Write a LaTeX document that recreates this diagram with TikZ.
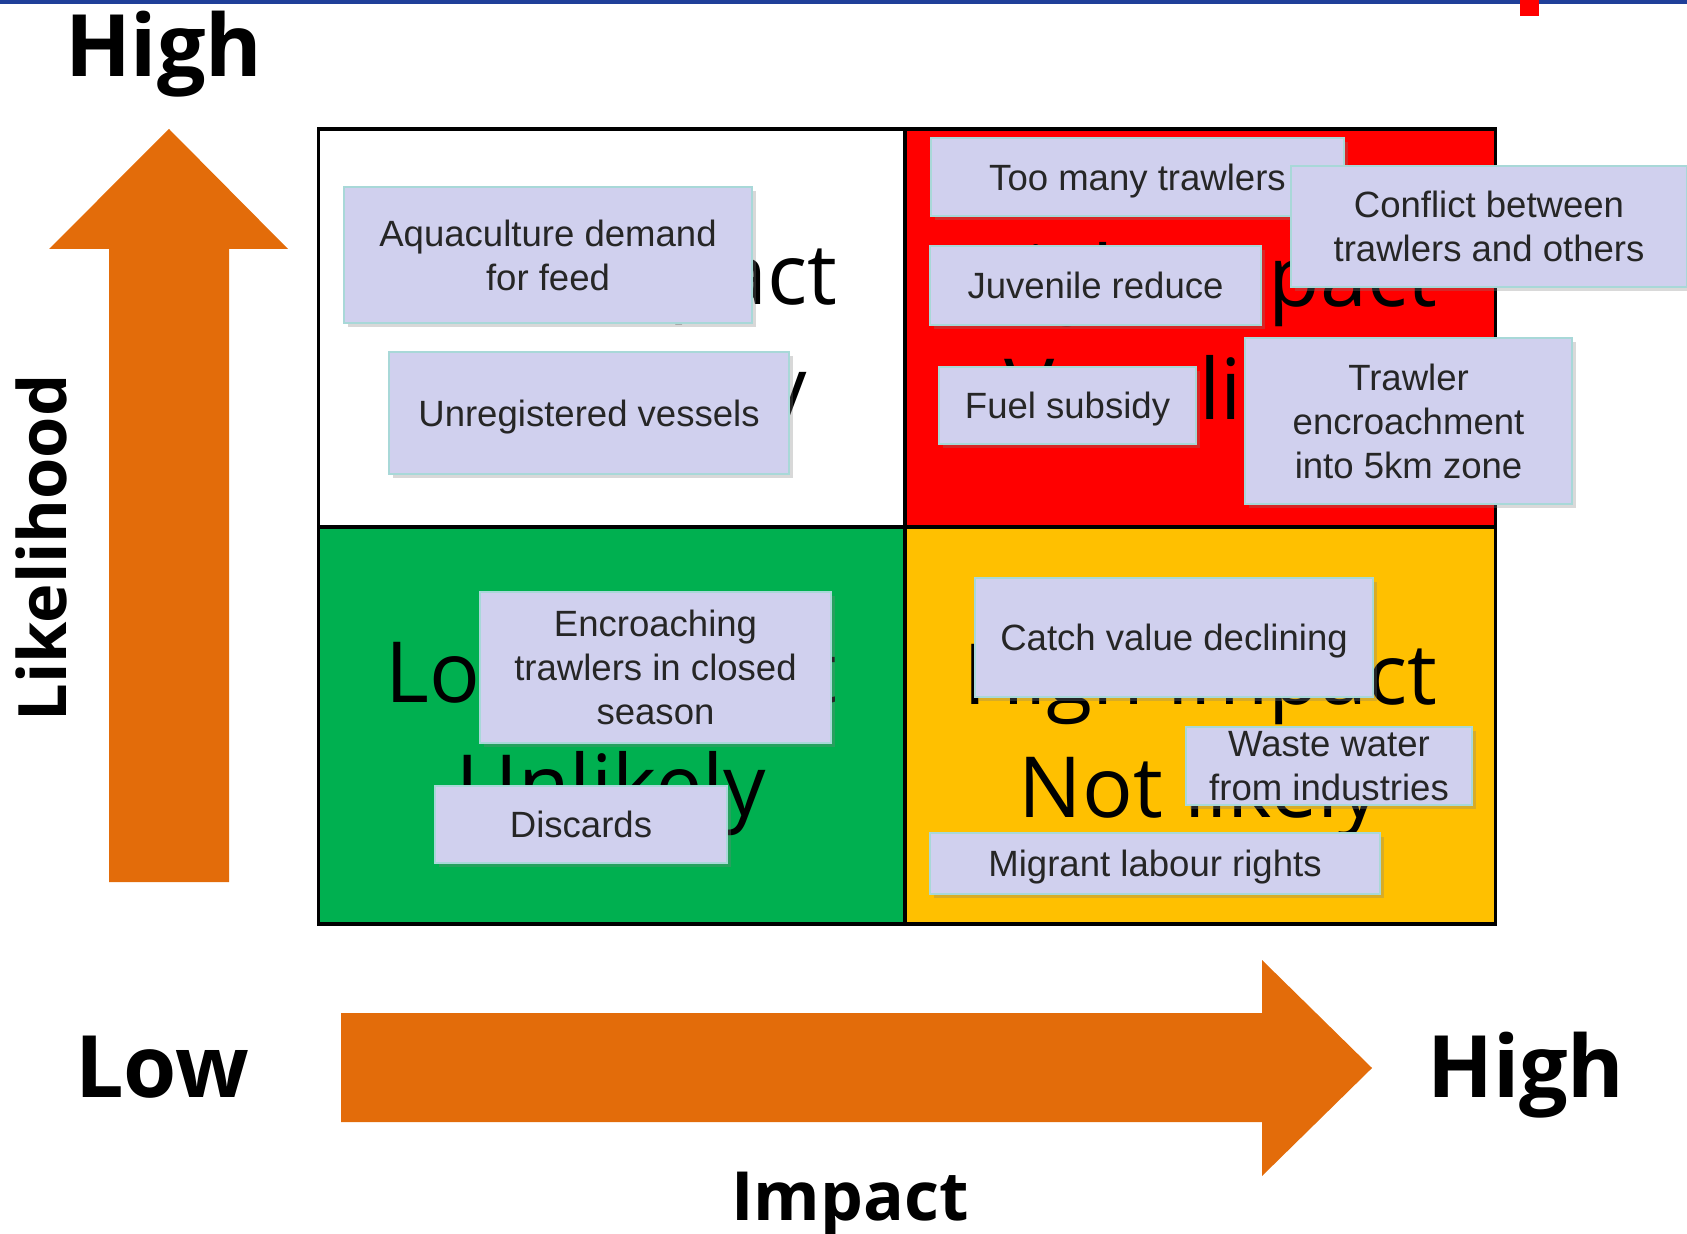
\documentclass[tikz,border=0pt]{standalone}
\usepackage{fontspec}
\setmainfont{Liberation Sans}
\newfontfamily\slidefont{Open Sans}
\usetikzlibrary{shadows}

\definecolor{riskred}{HTML}{FF0000}
\definecolor{riskgreen}{HTML}{00B050}
\definecolor{riskamber}{HTML}{FFC000}
\definecolor{axisorange}{HTML}{E36C0A}
\definecolor{notefill}{HTML}{D0D0EE}
\definecolor{noteline}{HTML}{A8D8D8}
\definecolor{notetext}{HTML}{262626}
\definecolor{bandblue}{HTML}{1F3F99}

\tikzset{
  sticky/.style={fill=notefill, draw=noteline, line width=0.4pt, text=notetext,
    align=center, inner sep=0pt,
    font=\fontsize{10.4}{12.5}\selectfont,
    drop shadow={shadow xshift=1.2pt, shadow yshift=-1.2pt, opacity=0.3}},
  oneline/.style={text height=9.6pt, text depth=2pt},
  quadtext/.style={align=center, font=\slidefont\fontsize{24}{32}\selectfont},
  axisword/.style={font=\slidefont\bfseries\fontsize{24.5}{28}\selectfont},
}

\begin{document}
\begin{tikzpicture}[line width=0.8pt]
\useasboundingbox (0,0) rectangle (16.87,-12.33);
% ---------- top band ----------
\fill[bandblue] (0,0) rectangle (16.87,-0.04);
\fill[riskred] (15.20,0) rectangle (15.39,-0.16);
% ---------- axes ----------
\fill[axisorange] (1.69,-1.29) -- (2.88,-2.49) -- (2.29,-2.49) -- (2.29,-8.82)
  -- (1.09,-8.82) -- (1.09,-2.49) -- (0.49,-2.49) -- cycle;
\fill[axisorange] (3.41,-10.13) -- (12.62,-10.13) -- (12.62,-9.60) -- (13.72,-10.68)
  -- (12.62,-11.76) -- (12.62,-11.22) -- (3.41,-11.22) -- cycle;
\node[axisword, anchor=base west] (likehigh) at (0.52,-0.77) {High};
\node[axisword, anchor=base west] (implow) at (0.62,-10.97) {Low};
\node[axisword, anchor=base west] (imphigh) at (14.14,-10.97) {High};
\node[axisword, font=\slidefont\bfseries\fontsize{19.3}{24}\selectfont, anchor=base] (impact) at (8.50,-12.20) {Impact};
\node[axisword, font=\slidefont\bfseries\fontsize{19}{24}\selectfont, anchor=base, rotate=90] (likelihood) at (0.66,-5.48) {Likelihood};
% ---------- risk grid ----------
\fill[white] (3.185,-1.29) rectangle (9.05,-5.27);
\fill[riskred] (9.05,-1.29) rectangle (14.955,-5.27);
\fill[riskgreen] (3.185,-5.27) rectangle (9.05,-9.24);
\fill[riskamber] (9.05,-5.27) rectangle (14.955,-9.24);
\draw[line width=1pt] (3.185,-1.29) rectangle (14.955,-9.24);
\draw[line width=1pt] (9.05,-1.29) -- (9.05,-9.24);
\draw[line width=1pt] (3.185,-5.27) -- (14.955,-5.27);
\node[quadtext] (tl) at (6.115,-3.41) {Low Impact\\Very likely};
\node[quadtext] (tr) at (12.00,-3.41) {High Impact\\Very likely};
\node[quadtext] (bl) at (6.115,-7.39) {Low Impact\\Unlikely};
\node[quadtext] (br) at (12.00,-7.39) {High Impact\\Not likely};
% ---------- sticky notes ----------
\node[sticky, minimum width=4.08cm, minimum height=1.36cm] (aqua) at (5.48,-2.55) {Aquaculture demand\\for feed};
\node[sticky, oneline, minimum width=4.00cm, minimum height=1.22cm] (unreg) at (5.89,-4.13) {Unregistered vessels};
\node[sticky, oneline, minimum width=4.13cm, minimum height=0.78cm] (toomany) at (11.375,-1.77) {Too many trawlers};
\node[sticky, minimum width=3.96cm, minimum height=1.21cm] (conflict) at (14.89,-2.265) {Conflict between\\trawlers and others};
\node[sticky, oneline, minimum width=3.31cm, minimum height=0.79cm] (juvenile) at (10.955,-2.855) {Juvenile reduce};
\node[sticky, oneline, minimum width=2.57cm, minimum height=0.77cm] (fuel) at (10.675,-4.055) {Fuel subsidy};
\node[sticky, minimum width=3.27cm, minimum height=1.66cm] (encroach5km) at (14.085,-4.21) {Trawler\\encroachment\\into 5km zone};
\node[sticky, minimum width=3.51cm, minimum height=1.51cm] (closedseason) at (6.555,-6.675) {Encroaching\\trawlers in closed\\season};
\node[sticky, oneline, minimum width=2.92cm, minimum height=0.77cm] (discards) at (5.81,-8.245) {Discards};
\node[sticky, oneline, minimum width=3.98cm, minimum height=1.19cm] (catch) at (11.74,-6.375) {Catch value declining};
\node[sticky, minimum width=2.86cm, minimum height=0.78cm] (waste) at (13.29,-7.66) {Waste water\\from industries};
\node[sticky, oneline, minimum width=4.50cm, minimum height=0.61cm] (migrant) at (11.55,-8.635) {Migrant labour rights};
\end{tikzpicture}
\end{document}
